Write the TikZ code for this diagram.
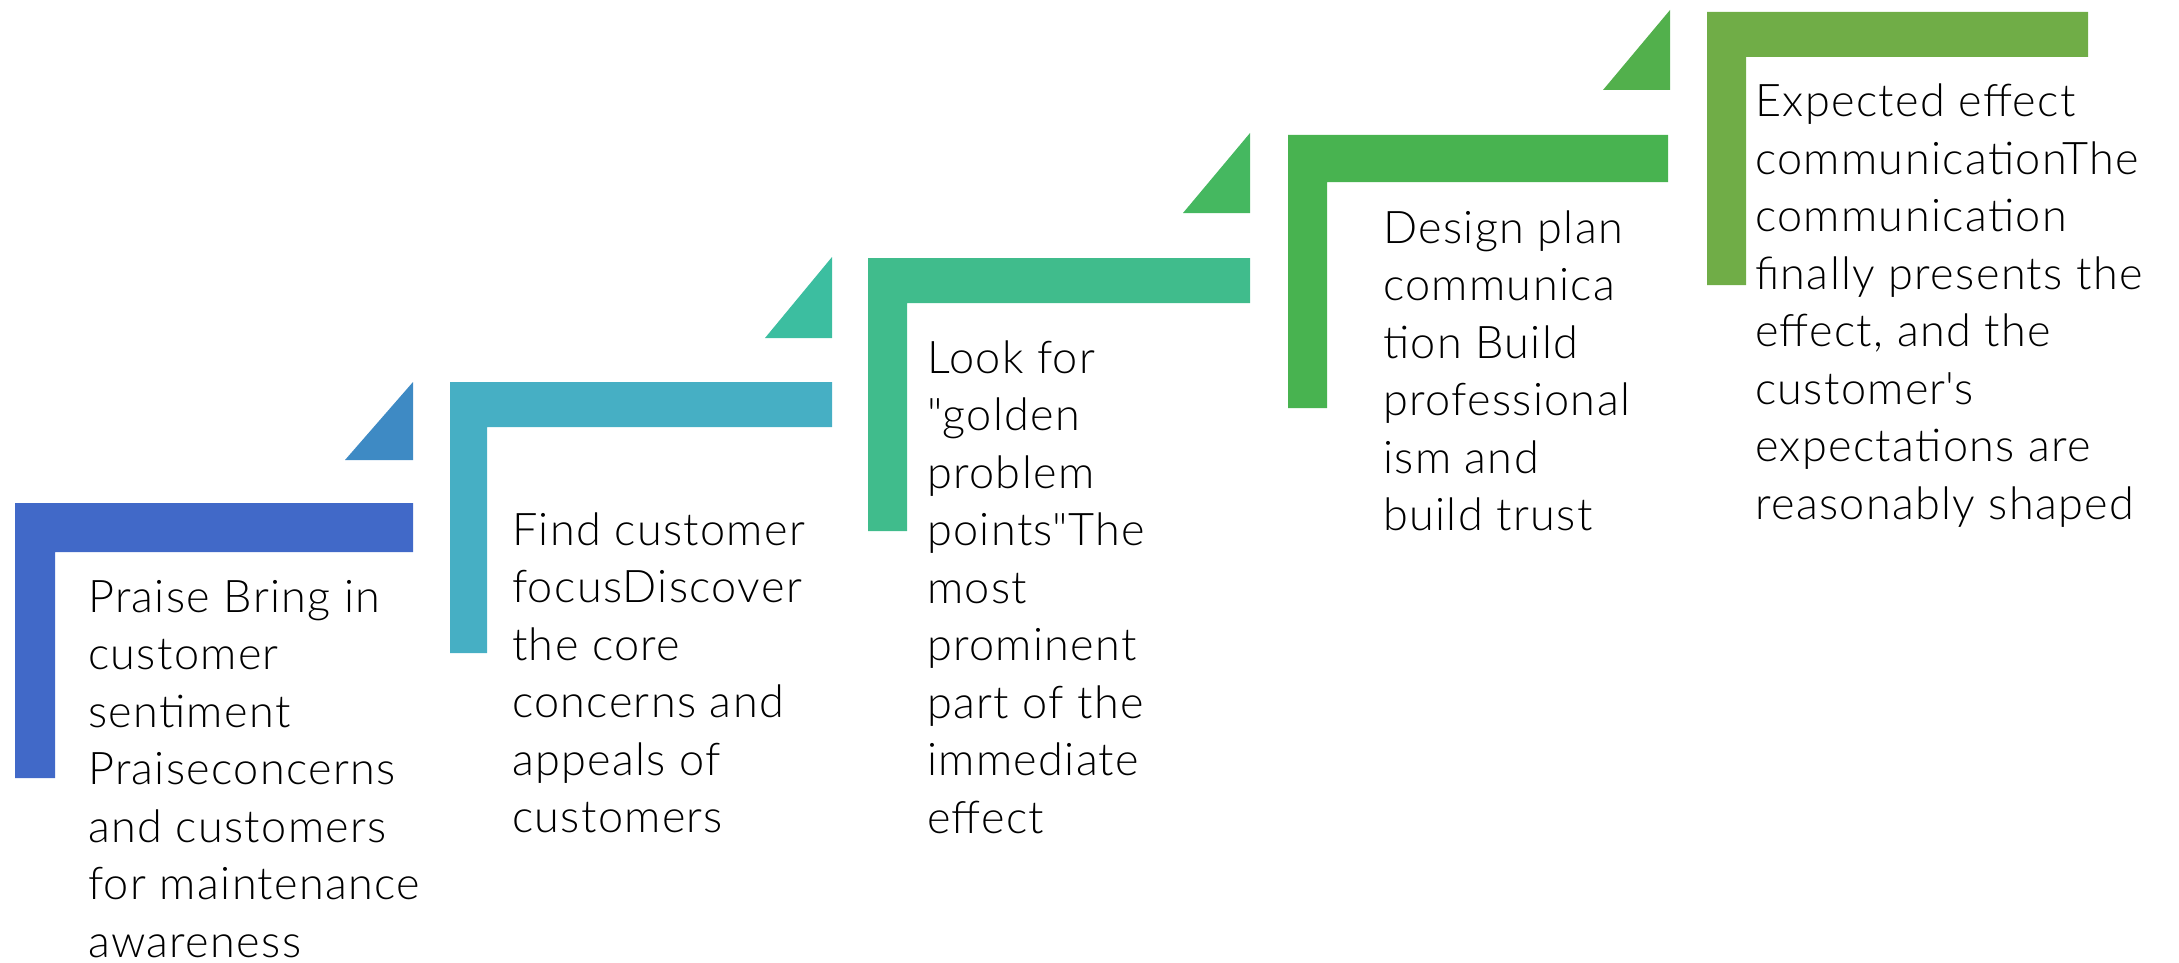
\documentclass[tikz,border=0pt]{standalone}
\usepackage{fontspec}
\setmainfont{Lato}[UprightFont={* Light},LetterSpace=3]
\newfontfamily\plainq{Lato}[UprightFont={* Light},LetterSpace=3]
\definecolor{cA}{HTML}{4169C8}
\definecolor{tA}{HTML}{3E8AC4}
\definecolor{cB}{HTML}{46AFC4}
\definecolor{tB}{HTML}{3CBEA0}
\definecolor{cC}{HTML}{40BC8C}
\definecolor{tC}{HTML}{45B860}
\definecolor{cD}{HTML}{48B350}
\definecolor{tD}{HTML}{52B04C}
\definecolor{cE}{HTML}{70AD47}
\newcommand\stepbody[1]{\parbox[t]{700pt}{\raggedright #1}}
\newcommand\dq{{\plainq"}}
\newcommand\sq{{\plainq'}}
\begin{document}
\begin{tikzpicture}[x=1pt,y=-1pt,
  steptext/.style={anchor=base west,inner sep=0pt,text=black,
    font=\fontsize{45}{57.5}\selectfont}]
\useasboundingbox (0,0) rectangle (2179,963);
% L shapes
\fill[cA] (15,503) -- (413,503) -- (413,552) -- (55,552) -- (55,778) -- (15,778) -- cycle;
\fill[cB] (450,382) -- (832,382) -- (832,427) -- (487,427) -- (487,653) -- (450,653) -- cycle;
\fill[cC] (868,258) -- (1250,258) -- (1250,303) -- (907,303) -- (907,531) -- (868,531) -- cycle;
\fill[cD] (1288,135) -- (1668,135) -- (1668,182) -- (1327,182) -- (1327,408) -- (1288,408) -- cycle;
\fill[cE] (1707,12) -- (2088,12) -- (2088,57) -- (1746,57) -- (1746,285) -- (1707,285) -- cycle;
% triangles
\fill[tA] (345,460) -- (413,460) -- (413,382) -- cycle;
\fill[tB] (765,338) -- (832,338) -- (832,257) -- cycle;
\fill[tC] (1183,213) -- (1250,213) -- (1250,133) -- cycle;
\fill[tD] (1603,90) -- (1670,90) -- (1670,10) -- cycle;
% texts
\node[steptext] (s1) at (88,612) {\stepbody{Praise Bring in\\customer\\sentiment\\Praiseconcerns\\and customers\\for maintenance\\awareness}};
\node[steptext] (s2) at (512,545) {\stepbody{Find customer\\focusDiscover\\the core\\concerns and\\appeals of\\customers}};
\node[steptext] (s3) at (927,373) {\stepbody{Look for\\\dq golden\\problem\\points\dq The\\most\\prominent\\part of the\\immediate\\effect}};
\node[steptext] (s4) at (1383,243) {\stepbody{Design plan\\communica\\tion Build\\professional\\ism and\\build trust}};
\node[steptext] (s5) at (1755,117) {\stepbody{Expected effect\\communicationThe\\communication\\finally presents the\\effect, and the\\customer\sq s\\expectations are\\reasonably shaped}};
\end{tikzpicture}
\end{document}
